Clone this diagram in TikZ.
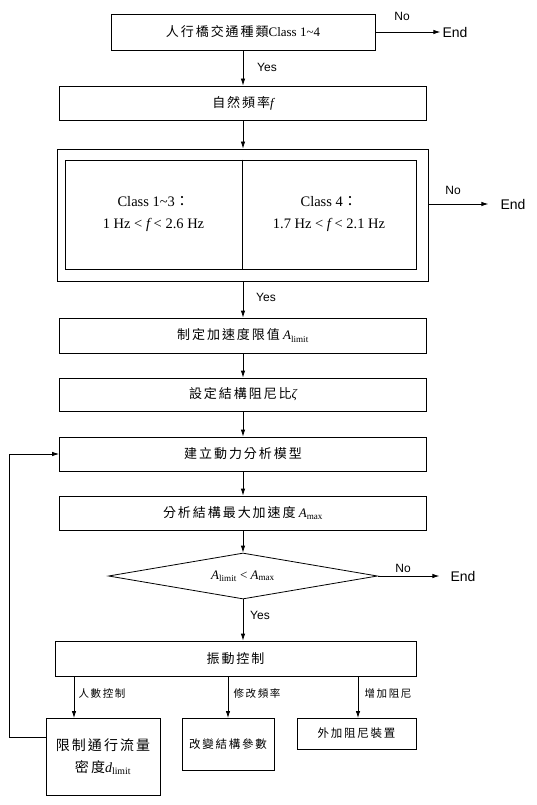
\documentclass[tikz,border=0pt]{standalone}
\usepackage{fontspec}
\setmainfont{Liberation Serif}
\newfontfamily\cjk[LetterSpace=15]{Noto Sans CJK TC}
\newfontfamily\arial{Liberation Sans}
\usetikzlibrary{shapes.geometric,arrows.meta,calc}
\newcommand\fsz[2]{\fontsize{#1}{#2}\selectfont}
\newcommand\Asub[1]{{\itshape A}\textsubscript{#1}}
\tikzset{
  box/.style={draw, line width=0.8pt, inner sep=0pt, align=center},
  arr/.style={-{Latex[length=7pt,width=4.5pt]}, line width=0.8pt},
  lab/.style={font=\arial\fsz{12}{14}, inner sep=0pt},
  endl/.style={font=\arial\fsz{14}{16}, inner sep=0pt},
  clab/.style={font=\cjk\fsz{10.5}{12}, inner sep=0pt},
}
\begin{document}
\begin{tikzpicture}[x=1pt,y=-1pt,font=\fsz{13}{16}]
\useasboundingbox (0,0) rectangle (537,805);
% main column
\node[box, minimum width=264pt, minimum height=36pt] (b1) at (243,32) {{\cjk 人行橋交通種類}Class 1\textasciitilde4};
\node[box, minimum width=367pt, minimum height=34pt] (b2) at (243,103) {{\cjk 自然頻率}{\itshape f}};
\node[box, minimum width=371pt, minimum height=132pt] (ob) at (243,215) {};
\node[box, minimum width=177pt, minimum height=109pt, font=\fsz{14.5}{22}] (inL) at (153.5,214.5) {Class 1\textasciitilde3{\cjk ：}\\1 Hz < {\itshape f} < 2.6 Hz};
\node[box, minimum width=174pt, minimum height=109pt, font=\fsz{14.5}{22}] (inR) at (329,214.5) {Class 4{\cjk ：}\\1.7 Hz < {\itshape f} < 2.1 Hz};
\draw[line width=1.5pt] (inL.north east) -- (inL.south east);
\node[box, minimum width=367pt, minimum height=35pt] (b3) at (243,335.5) {{\cjk 制定加速度限值} \Asub{limit}};
\node[box, minimum width=367pt, minimum height=33pt] (b4) at (243,394.5) {{\cjk 設定結構阻尼比}{\itshape ζ}};
\node[box, minimum width=367pt, minimum height=34pt] (b5) at (243,454) {{\cjk 建立動力分析模型}};
\node[box, minimum width=367pt, minimum height=34pt] (b6) at (243,513) {{\cjk 分析結構最大加速度} \Asub{max}};
\node[draw, line width=0.8pt, diamond, aspect=5.85, minimum width=269pt, minimum height=46pt, inner sep=0pt] (d) at (243,576) {};
\node at (243,576) {\Asub{limit} < \Asub{max}};
\node[box, minimum width=361pt, minimum height=35pt] (b7) at (235.5,658.5) {{\cjk 振動控制}};
\node[box, minimum width=114pt, minimum height=77pt, font=\fsz{14}{22}] (bA) at (103,756.5) {{\cjk 限制通行流量}\\{\cjk 密度}{\itshape d}\textsubscript{limit}};
\node[box, minimum width=92pt, minimum height=52pt, font=\cjk\fsz{11.5}{14}] (bB) at (228,744) {改變結構參數};
\node[box, minimum width=119pt, minimum height=31pt, font=\cjk\fsz{11.5}{14}] (bC) at (356.5,733.5) {外加阻尼裝置};
% End nodes
\node[endl] (e1) at (455,32) {End};
\node[endl] (e2) at (513,204) {End};
\node[endl] (e3) at (463,576) {End};
% labels
\node[lab] at (402,16) {No};
\node[lab] at (267,67) {Yes};
\node[lab] at (453,190) {No};
\node[lab] at (266,297) {Yes};
\node[lab] at (403,568) {No};
\node[lab] at (260,615) {Yes};
\node[clab] at (102,693) {人數控制};
\node[clab] at (257,693) {修改頻率};
\node[clab] at (388,693) {增加阻尼};
% arrows
\draw[arr] (b1.south) -- (b2.north);
\draw[arr] (b2.south) -- (ob.north);
\draw[arr] (ob.south) -- (b3.north);
\draw[arr] (b3.south) -- (b4.north);
\draw[arr] (b4.south) -- (b5.north);
\draw[arr] (b5.south) -- (b6.north);
\draw[arr] (b6.south) -- (d.north);
\draw[arr] (d.south) -- (d.south |- b7.north);
\draw[arr, shorten >=2pt] (b1.east) -- (e1.west);
\draw[arr, shorten >=12pt] (ob.east |- e2.west) -- (e2.west);
\draw[arr, shorten >=11pt] (d.east) -- (e3.west);
\coordinate (pa) at (74,718);
\coordinate (pb) at (228,718);
\coordinate (pc) at (358,718);
\draw[arr] (b7.south -| pa) -- (pa);
\draw[arr] (b7.south -| pb) -- (pb);
\draw[arr] (b7.south -| pc) -- (pc);
\coordinate (fb) at (46,737);
\draw[arr] (fb) -- ++(-37,0) |- (b5.west);
\end{tikzpicture}
\end{document}
